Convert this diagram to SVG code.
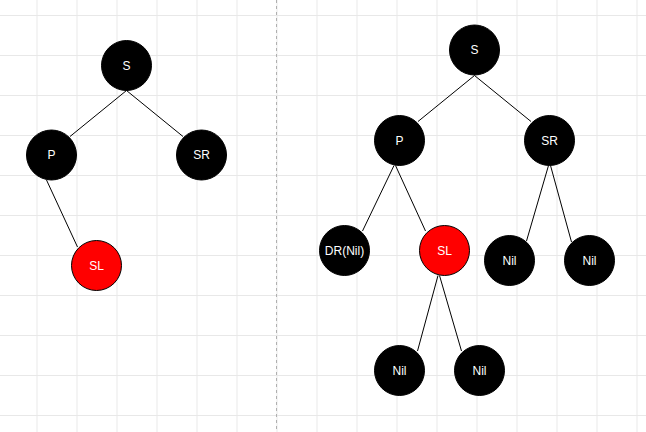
<svg xmlns="http://www.w3.org/2000/svg" width="646" height="432" viewBox="0 0 646 432">
<defs>
<pattern id="grid" x="36.5" y="15" width="40" height="40" patternUnits="userSpaceOnUse">
<path d="M0.5 0 V40 M0 0.5 H40" fill="none" stroke="#e8e8e8" stroke-width="1"/>
</pattern>
</defs>
<style>
.n{stroke:#000;stroke-width:1}
.b{fill:#000}
.r{fill:#ff0000}
.t{fill:#fff;font-family:"Liberation Sans",Arial,sans-serif;font-size:12px;text-anchor:middle;dominant-baseline:central}
.e{stroke:#000;stroke-width:1;fill:none}
</style>
<rect width="646" height="432" fill="#fff"/>
<rect width="646" height="432" fill="url(#grid)"/>
<line x1="276.5" y1="0" x2="276.5" y2="432" stroke="#b0b0b0" stroke-width="1" stroke-dasharray="3,3"/>
<g id="connectors">
<line class="e" x1="126.5" y1="90.5" x2="70" y2="136.5"/>
<line class="e" x1="126.5" y1="90.5" x2="183" y2="136.5"/>
<line class="e" x1="46.5" y1="180" x2="77.5" y2="247"/>
<line class="e" x1="474.5" y1="75.5" x2="418" y2="121.5"/>
<line class="e" x1="474.5" y1="75.5" x2="531" y2="121.5"/>
<line class="e" x1="394" y1="165.5" x2="362.5" y2="231"/>
<line class="e" x1="395.5" y1="165.5" x2="425.5" y2="231"/>
<line class="e" x1="548.5" y1="165.5" x2="526.5" y2="241"/>
<line class="e" x1="550.5" y1="165.5" x2="571.5" y2="242"/>
<line class="e" x1="438" y1="275.5" x2="417.5" y2="351"/>
<line class="e" x1="439.5" y1="275.5" x2="461.5" y2="351"/>
</g>
<g id="L_S"><circle class="n b" cx="126.5" cy="65.5" r="25"/><text class="t" x="126.5" y="65.5">S</text></g>
<g id="L_P"><circle class="n b" cx="51.5" cy="155" r="25"/><text class="t" x="51.5" y="155">P</text></g>
<g id="L_SR"><circle class="n b" cx="201.5" cy="155" r="25"/><text class="t" x="201.5" y="155">SR</text></g>
<g id="L_SL"><circle class="n r" cx="96.5" cy="265.5" r="25"/><text class="t" x="96.5" y="265.5">SL</text></g>
<g id="R_S"><circle class="n b" cx="474.5" cy="50" r="25"/><text class="t" x="474.5" y="50">S</text></g>
<g id="R_P"><circle class="n b" cx="399.5" cy="140.5" r="25"/><text class="t" x="399.5" y="140.5">P</text></g>
<g id="R_SR"><circle class="n b" cx="549.5" cy="140.5" r="25"/><text class="t" x="549.5" y="140.5">SR</text></g>
<g id="R_DR"><circle class="n b" cx="344.5" cy="250.5" r="25"/><text class="t" x="344.5" y="250.5">DR(Nil)</text></g>
<g id="R_SL"><circle class="n r" cx="444.5" cy="250.5" r="25"/><text class="t" x="444.5" y="250.5">SL</text></g>
<g id="R_SR_L"><circle class="n b" cx="509.5" cy="260.5" r="25"/><text class="t" x="509.5" y="260.5">Nil</text></g>
<g id="R_SR_R"><circle class="n b" cx="589.5" cy="260.5" r="25"/><text class="t" x="589.5" y="260.5">Nil</text></g>
<g id="R_SL_L"><circle class="n b" cx="399.5" cy="370.5" r="25"/><text class="t" x="399.5" y="370.5">Nil</text></g>
<g id="R_SL_R"><circle class="n b" cx="479.5" cy="370.5" r="25"/><text class="t" x="479.5" y="370.5">Nil</text></g>
</svg>
